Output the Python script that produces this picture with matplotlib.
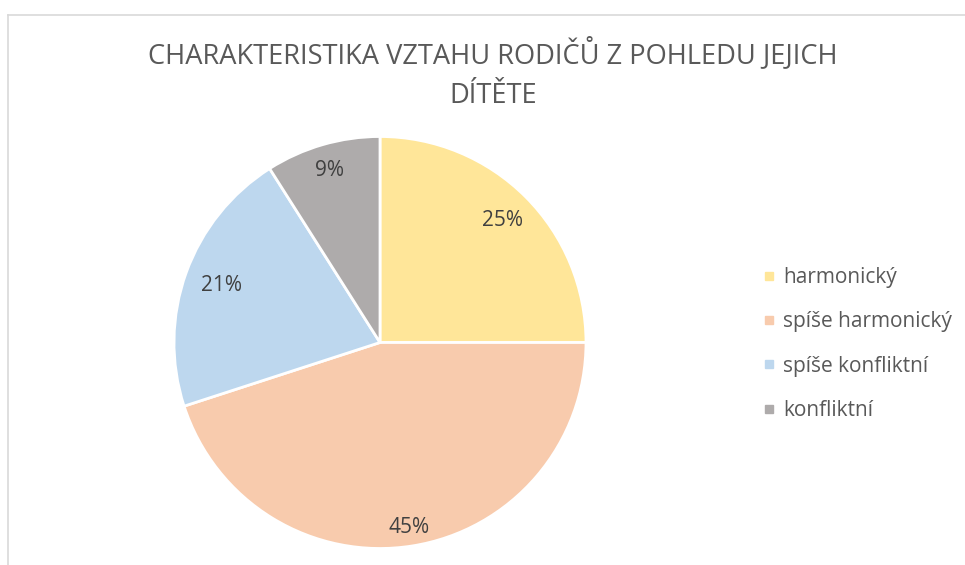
import matplotlib
matplotlib.use("Agg")
import matplotlib.pyplot as plt
import numpy as np
from matplotlib.lines import Line2D

categories = ["harmonický", "spíše harmonický", "spíše konfliktní", "konfliktní"]
values = [25, 45, 21, 9]
colors = ["#FFE699", "#F8CBAD", "#BDD7EE", "#AEABAB"]
title_lines = ["CHARAKTERISTIKA VZTAHU RODIČŮ Z POHLEDU JEJICH", "DÍTĚTE"]
label_dist = [0.84, 0.91, 0.82, 0.87]  # per-wedge label placement (style)

W, H = 965, 565
fig = plt.figure(figsize=(W / 100, H / 100), dpi=100)
fig.patch.set_facecolor("white")

font = "Open Sans"

# border (top and left visible)
fig.add_artist(Line2D([7.5 / W, 1.0], [1 - 14.5 / H, 1 - 14.5 / H], color="#D9D9D9", lw=1.2, transform=fig.transFigure))
fig.add_artist(Line2D([7.5 / W, 7.5 / W], [0, 1 - 14.5 / H], color="#D9D9D9", lw=1.2, transform=fig.transFigure))

cx, cy, r = 380, 342.5, 206
ax = fig.add_axes([(cx - r) / W, (H - cy - r) / H, 2 * r / W, 2 * r / H])
wedges, texts, autotexts = ax.pie(
    values, colors=colors, startangle=90, counterclock=False,
    autopct="%1.0f%%", pctdistance=0.85,
    wedgeprops=dict(edgecolor="white", linewidth=2),
    textprops=dict(fontsize=15, color="#404040", family=font),
)
for w, t, d in zip(wedges, autotexts, label_dist):
    ang = np.deg2rad((w.theta1 + w.theta2) / 2)
    t.set_position((d * np.cos(ang), d * np.sin(ang)))
ax.set_xlim(-1.0, 1.0)
ax.set_ylim(-1.0, 1.0)
ax.set_aspect("equal")
ax.axis("off")

for line, ybase in zip(title_lines, [63, 103]):
    fig.text(493 / W, 1 - ybase / H, line, ha="center", va="baseline", fontsize=19.6,
             color="#595959", family=font)

handles = [Line2D([0], [0], marker="s", linestyle="none", markersize=6,
                  markerfacecolor=c, markeredgecolor=c) for c in colors]
leg = fig.legend(handles, categories, loc="upper left",
                 bbox_to_anchor=(763 / W, 1 - 267 / H), frameon=False,
                 prop=dict(family=font, size=15), labelcolor="#595959",
                 handlelength=0.6, handletextpad=0.37, labelspacing=1.12,
                 borderpad=0, borderaxespad=0)

fig.savefig("out.png", dpi=100, facecolor="white")
